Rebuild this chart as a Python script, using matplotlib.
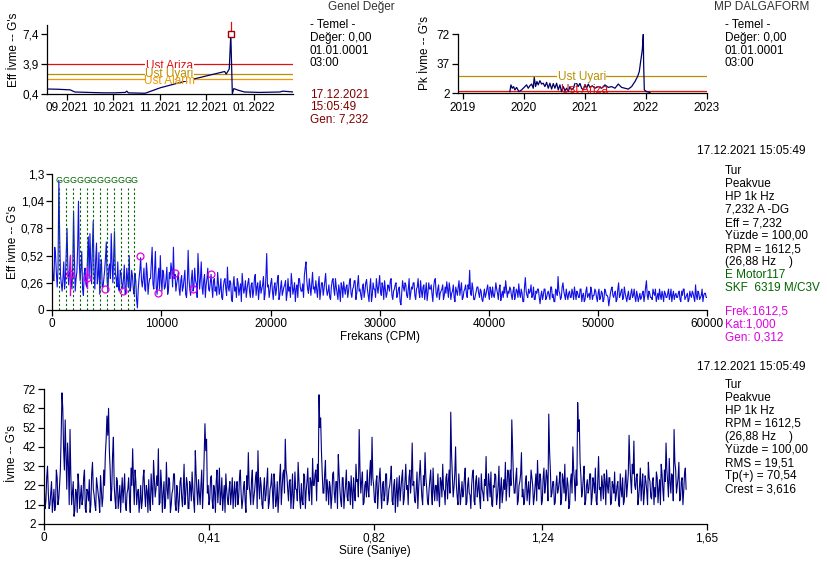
import numpy as np
import pandas as pd
import matplotlib
matplotlib.use('Agg')
import matplotlib.pyplot as plt
import matplotlib.dates as mdates

plt.rcParams['font.family'] = ['Liberation Sans', 'DejaVu Sans']

# --- genel deger trend (Eff)
trend_dates = ['2021-08-19', '2021-08-26', '2021-09-03', '2021-09-06', '2021-09-15', '2021-09-25',
               '2021-10-02', '2021-10-09', '2021-10-10', '2021-10-11', '2021-10-22', '2021-11-01',
               '2021-11-20', '2021-12-13', '2021-12-14', '2021-12-16', '2021-12-17', '2021-12-18',
               '2021-12-19', '2021-12-22', '2021-12-26', '2022-01-05', '2022-01-18', '2022-01-20',
               '2022-01-27']
trend_vals = [0.95, 0.92, 0.85, 0.6, 0.55, 0.5, 0.5, 0.55, 0.7, 0.5, 0.45, 1.1,
              2.0, 3.0, 2.7, 3.3, 7.4, 0.4, 1.0, 0.8, 0.6, 0.55, 0.6, 0.7, 0.6]
eff_limits = {'Ust Ariza': 3.9, 'Ust Uyari': 2.75, 'Ust Alarm': 2.09}

# --- MP dalgaform trend (Pk)
pk_years = [2019.77, 2019.787, 2019.809, 2019.831, 2019.852, 2019.88, 2019.918, 2019.962,
            2020.016, 2020.044, 2020.071, 2020.098, 2020.126, 2020.153, 2020.169, 2020.191,
            2020.213, 2020.235, 2020.262, 2020.29, 2020.317, 2020.344, 2020.372, 2020.399,
            2020.426, 2020.454, 2020.481, 2020.508, 2020.536, 2020.563, 2020.59, 2020.617,
            2020.645, 2020.672, 2020.699, 2020.727, 2020.754, 2020.781, 2020.809, 2020.847,
            2020.869, 2020.891, 2020.918, 2020.945, 2020.973, 2021.0, 2021.027, 2021.055,
            2021.082, 2021.12, 2021.164, 2021.219, 2021.273, 2021.328, 2021.383, 2021.437,
            2021.492, 2021.546, 2021.601, 2021.656, 2021.71, 2021.765, 2021.82, 2021.863,
            2021.891, 2021.913, 2021.929, 2021.94, 2021.956, 2021.962, 2021.973, 2022.011,
            2022.066]
pk_vals = [4, 12, 8, 10, 6, 9, 4, 6, 10, 12, 8, 11, 13, 8, 21, 10, 16, 12, 17, 13, 14, 10,
           15, 8, 14, 7, 13.6, 8, 14, 6, 12, 4, 10, 5, 8, 4, 10, 6, 8, 16, 13, 10, 14, 8, 6,
           12, 8, 13, 9, 11, 8, 10, 8, 12, 9, 10, 8, 13, 9, 8, 7, 10, 16, 22, 28, 40, 48, 54,
           72, 36, 6, 4, 3]
pk_limits = {'Ust Uyari': 22.7, 'Ust Ariza': 4.3, 'Ust Alarm': 2.7}

# --- spektrum (Eff G's x100), bins at 0,150,...,60000 and the 75 CPM points in between
spec_amp = [
    45, 28, 52, 22, 124, 34, 18, 46, 30, 78, 24, 51, 20, 94, 18, 36, 104, 28, 56, 14,
    40, 22, 70, 73, 25, 85, 20, 64, 32, 15, 48, 22, 38, 65, 18, 44, 73, 26, 75, 30,
    46, 18, 35, 20, 43, 16, 30, 52, 22, 32, 15, 28, 2, 30, 50, 22, 40, 18, 35, 25,
    30, 60, 20, 56, 15, 40, 52, 18, 35, 22, 41, 20, 30, 38, 60, 34, 25, 36, 14, 33,
    22, 38, 12, 57, 20, 30, 18, 40, 25, 54, 20, 46, 15, 34, 24, 40, 18, 34, 12, 30,
    22, 36, 15, 30, 10, 28, 20, 41, 18, 26, 8, 32, 22, 30, 14, 25, 35, 16, 28, 20,
    30, 12, 26, 18, 34, 22, 10, 28, 20, 32, 15, 54, 24, 18, 30, 10, 26, 20, 33, 14,
    28, 18, 24, 9, 30, 22, 35, 15, 26, 20, 12, 30, 18, 25, 33, 46, 20, 30, 14, 36,
    22, 28, 12, 32, 18, 26, 20, 35, 14, 24, 10, 28, 20, 30, 16, 24, 8, 22, 27, 15,
    24, 18, 30, 12, 22, 28, 16, 33, 20, 10, 25, 18, 29, 14, 22, 8, 26, 20, 30, 16,
    33, 14, 22, 28, 12, 24, 18, 30, 10, 20, 26, 15, 22, 5, 28, 18, 24, 12, 30, 16,
    20, 26, 10, 22, 17, 28, 12, 24, 18, 9, 26, 20, 15, 22, 30, 12, 24, 16, 20, 10,
    22, 27, 12, 20, 16, 24, 8, 18, 22, 14, 26, 12, 20, 16, 24, 38, 14, 20, 10, 18,
    22, 12, 18, 8, 20, 15, 24, 10, 18, 22, 12, 26, 16, 20, 9, 18, 22, 28, 12, 16,
    20, 10, 22, 14, 18, 25, 12, 16, 8, 31, 14, 20, 18, 12, 22, 10, 16, 20, 6, 18,
    14, 20, 12, 18, 10, 22, 15, 8, 18, 32, 16, 12, 26, 14, 20, 10, 18, 12, 16, 22,
    10, 16, 12, 20, 14, 8, 18, 12, 16, 22, 10, 14, 18, 8, 20, 12, 16, 10, 18, 14,
    4, 16, 22, 12, 18, 10, 26, 14, 20, 12, 16, 8, 18, 10, 20, 14, 12, 18, 8, 16,
    12, 18, 14, 28, 10, 16, 12, 20, 14, 8, 16, 20, 10, 14, 18, 12, 16, 10, 20, 14,
    10, 16, 12, 18, 8, 14, 20, 12, 16, 10, 14, 18, 12, 24, 10, 16, 12, 20, 14, 16,
    12]
spec_mid = [
    30, 60, 35, 40, 70, 25, 30, 20, 55, 40, 35, 28, 42, 50, 30, 60, 45, 40, 20, 35,
    25, 50, 30, 45, 60, 35, 48, 25, 55, 40, 22, 30, 50, 28, 40, 30, 45, 50, 35, 22,
    20, 38, 25, 30, 15, 40, 22, 18, 38, 20, 35, 10, 20, 38, 28, 30, 20, 45, 15, 30,
    45, 25, 38, 22, 30, 20, 28, 38, 20, 30, 15, 36, 45, 22, 30, 18, 30, 20, 28, 18,
    30, 15, 25, 30, 14, 38, 22, 28, 12, 35, 30, 22, 28, 12, 30, 20, 26, 22, 28, 18,
    14, 26, 20, 12, 22, 30, 14, 22, 28, 10, 24, 18, 12, 26, 20, 8, 24, 20, 12, 26,
    18, 24, 12, 30, 14, 26, 20, 16, 24, 10, 32, 22, 12, 26, 18, 22, 14, 28, 10, 22,
    14, 22, 28, 16, 18, 12, 26, 20, 8, 24, 30, 22, 18, 12, 40, 28, 16, 22, 25, 20,
    16, 20, 24, 10, 26, 14, 28, 20, 18, 12, 22, 30, 14, 22, 10, 18, 26, 12, 20, 22,
    12, 26, 16, 20, 28, 10, 24, 18, 14, 22, 12, 26, 20, 8, 30, 14, 20, 12, 22, 24,
    18, 26, 10, 20, 16, 22, 28, 14, 18, 24, 12, 20, 8, 16, 22, 26, 14, 20, 10, 22,
    26, 14, 20, 30, 12, 18, 22, 10, 26, 16, 20, 24, 8, 28, 16, 20, 10, 18, 24, 14,
    16, 20, 26, 10, 18, 12, 22, 14, 28, 20, 10, 18, 24, 12, 20, 16, 26, 10, 14, 22,
    16, 20, 10, 14, 12, 20, 16, 22, 12, 14, 18, 20, 10, 24, 14, 12, 16, 20, 18, 22,
    14, 18, 10, 20, 12, 16, 20, 8, 22, 18, 12, 16, 24, 14, 10, 18, 20, 12, 14, 10,
    20, 10, 16, 14, 22, 12, 8, 20, 14, 18, 10, 22, 18, 10, 14, 16, 12, 20, 10, 16,
    18, 12, 20, 8, 16, 10, 22, 14, 10, 18, 14, 20, 12, 16, 10, 18, 8, 20, 14, 12,
    10, 20, 14, 16, 8, 20, 12, 18, 10, 22, 12, 14, 10, 16, 12, 20, 8, 14, 12, 10,
    16, 8, 22, 14, 18, 12, 10, 16, 20, 12, 10, 14, 18, 8, 16, 12, 20, 14, 8, 18,
    14, 12, 16, 10, 18, 20, 10, 14, 8, 18, 12, 16, 8, 14, 18, 10, 14, 8, 16, 12]
spec_step = 150
g_freqs = [627, 1254, 1881, 2508, 3135, 3762, 4389, 5016, 5643, 6270, 6897, 7524]
harm_freqs = [1612.5, 3225, 4837.5, 6450, 8062.5, 9675, 11287.5, 12900, 14512.5]
harm_amps = [0.34, 0.31, 0.20, 0.18, 0.52, 0.16, 0.35, 0.20, 0.34]

# --- dalga formu (G's), samples every 0.004 s plus the points in between
wave = [
    22, 14, 32, 10, 18, 8, 20, 12, 26, 15, 30, 70, 41, 56, 20, 33, 51, 12, 24, 9,
    18, 28, 10, 22, 15, 30, 8, 19, 25, 12, 34, 17, 9, 22, 14, 27, 11, 30, 38, 58,
    62, 30, 20, 47, 15, 26, 10, 22, 18, 13, 28, 9, 20, 16, 31, 41, 12, 24, 18, 8,
    22, 14, 30, 11, 19, 25, 9, 20, 35, 16, 27, 41, 13, 22, 18, 10, 34, 15, 24, 12,
    20, 28, 9, 18, 14, 26, 11, 33, 17, 23, 10, 21, 29, 14, 40, 19, 25, 12, 30, 20,
    54, 46, 22, 15, 27, 10, 19, 24, 13, 31, 17, 9, 22, 28, 15, 20, 12, 26, 18, 11,
    24, 16, 30, 10, 21, 14, 27, 39, 18, 25, 12, 20, 29, 40, 15, 22, 10, 26, 17, 31,
    13, 22, 19, 28, 11, 24, 16, 33, 20, 30, 46, 27, 14, 25, 18, 10, 29, 20, 34, 15,
    23, 12, 27, 19, 31, 14, 24, 36, 22, 30, 33, 69, 57, 28, 18, 35, 25, 12, 21, 16,
    29, 13, 24, 38, 20, 11, 26, 17, 30, 14, 22, 27, 10, 19, 33, 25, 51, 18, 29, 13,
    24, 30, 16, 35, 47, 22, 13, 27, 19, 31, 10, 24, 17, 28, 14, 22, 32, 12, 25, 18,
    11, 27, 20, 30, 15, 33, 22, 26, 18, 44, 24, 13, 29, 20, 35, 16, 27, 39, 21, 12,
    25, 18, 31, 14, 22, 28, 11, 24, 33, 19, 26, 15, 30, 60, 27, 21, 42, 16, 28, 12,
    24, 19, 31, 13, 26, 17, 22, 30, 12, 27, 20, 15, 28, 18, 25, 37, 14, 23, 29, 11,
    21, 27, 16, 32, 20, 13, 25, 34, 22, 28, 30, 56, 26, 18, 31, 14, 24, 39, 20, 15,
    27, 19, 12, 30, 22, 16, 28, 35, 20, 25, 14, 31, 22, 26, 59, 30, 18, 24, 13, 27,
    20, 29, 15, 25, 33, 18, 22, 12, 28, 42, 24, 30, 65, 56, 27, 19, 32, 14, 25, 20,
    28, 16, 23, 31, 12, 37, 21, 27, 15, 24, 30, 18, 26, 13, 22, 29, 17, 24, 11, 20,
    26, 14, 30, 22, 48, 25, 33, 45, 20, 28, 16, 31, 22, 12, 27, 19, 34, 24, 15, 26,
    21, 29, 13, 25, 33, 20, 30, 44, 24, 36, 18, 27, 51, 30, 22, 34, 15, 26, 19, 31]
wave_mid = [
    10, 26, 18, 12, 24, 14, 9, 30, 12, 22, 48, 62, 30, 38, 44, 12, 28, 18, 6, 20,
    8, 22, 16, 12, 26, 10, 20, 14, 8, 28, 20, 12, 26, 18, 8, 20, 16, 22, 46, 48,
    40, 14, 38, 22, 10, 24, 16, 8, 26, 20, 12, 18, 26, 8, 22, 24, 30, 12, 20, 14,
    10, 26, 18, 22, 8, 14, 28, 12, 26, 20, 22, 12, 30, 8, 24, 14, 20, 26, 8, 18,
    28, 12, 22, 8, 24, 16, 20, 12, 26, 10, 24, 14, 20, 8, 28, 12, 18, 22, 10, 36,
    40, 18, 12, 26, 14, 22, 8, 30, 20, 12, 26, 16, 8, 20, 12, 24, 18, 10, 24, 20,
    12, 26, 18, 14, 24, 8, 20, 22, 12, 30, 16, 26, 10, 22, 26, 12, 20, 14, 24, 10,
    20, 28, 10, 22, 14, 8, 26, 12, 28, 18, 30, 20, 24, 10, 28, 16, 20, 14, 24, 10,
    14, 28, 10, 24, 18, 26, 12, 22, 28, 14, 24, 52, 40, 18, 28, 14, 20, 24, 10, 28,
    18, 24, 10, 28, 14, 26, 10, 22, 16, 24, 12, 18, 26, 14, 24, 16, 30, 24, 12, 22,
    16, 20, 28, 22, 26, 14, 24, 10, 26, 18, 22, 14, 28, 12, 20, 26, 14, 22, 8, 26,
    20, 14, 26, 12, 24, 20, 12, 30, 26, 22, 14, 20, 10, 28, 24, 12, 22, 26, 14, 20,
    30, 12, 20, 22, 14, 18, 26, 16, 20, 12, 28, 24, 18, 38, 16, 28, 22, 12, 20, 18,
    16, 26, 12, 22, 18, 10, 28, 14, 24, 16, 26, 10, 20, 14, 22, 18, 28, 16, 12, 22,
    28, 12, 22, 10, 26, 18, 20, 14, 30, 16, 22, 40, 18, 26, 12, 22, 28, 16, 12, 24,
    14, 24, 20, 26, 12, 22, 14, 22, 28, 12, 26, 18, 30, 14, 40, 16, 24, 12, 22, 18,
    24, 12, 28, 18, 14, 26, 10, 24, 18, 30, 14, 22, 50, 34, 16, 26, 12, 22, 18, 28,
    12, 26, 18, 14, 24, 20, 14, 22, 28, 12, 22, 26, 12, 24, 18, 14, 22, 12, 28, 16,
    12, 24, 16, 28, 34, 18, 28, 22, 26, 12, 22, 14, 28, 18, 24, 12, 26, 16, 24, 12,
    16, 26, 20, 12, 28, 14, 24, 30, 16, 24, 28, 14, 34, 18, 26, 14, 24, 12, 28, 20]
wave_dt = 0.004

W, H = 828, 570
FS = 8.5
NAVY = '#000066'
RED = '#e01010'
GOLD = '#b89000'
ORANGE = '#f09800'
DRED = '#800000'
GREEN = '#006400'
MAG = '#e000e0'


def box(l, t, r, b):
    return [l / W, 1 - b / H, (r - l) / W, (b - t) / H]


def txt(x, y, s, **kw):
    kw.setdefault('fontsize', FS)
    kw.setdefault('va', 'center')
    fig.text(x / W, 1 - y / H, s, **kw)


def style(ax):
    for s in ['top', 'right']:
        ax.spines[s].set_visible(False)
    for s in ['left', 'bottom']:
        ax.spines[s].set_linewidth(0.9)
    ax.tick_params(direction='out', length=4, width=0.9, labelsize=FS, pad=2)


def comma(v):
    return ('%g' % v).replace('.', ',')


def weave(a, b):
    # main samples with the in-between samples slotted after each one
    out = []
    for i, v in enumerate(a):
        out.append(v)
        if i < len(b):
            out.append(b[i])
    return np.array(out, dtype=float)


fig = plt.figure(figsize=(W / 100, H / 100), dpi=100)

# top left trend
ax1 = fig.add_axes(box(47, 25, 293, 93.7))
style(ax1)
d = pd.to_datetime(trend_dates)
for name, col in [('Ust Ariza', RED), ('Ust Uyari', GOLD), ('Ust Alarm', ORANGE)]:
    ax1.axhline(eff_limits[name], color=col, lw=0.9)
lab_x = pd.Timestamp('2021-11-07')
ax1.text(lab_x, 3.7, 'Ust Ariza', color=RED, fontsize=FS, ha='center', va='center',
         bbox=dict(fc='white', ec='none', pad=0.5))
ax1.text(lab_x, 2.66, 'Ust Uyari', color=GOLD, fontsize=FS, ha='center', va='center',
         bbox=dict(fc='white', ec='none', pad=0.3))
ax1.text(lab_x, 1.86, 'Ust Alarm', color=ORANGE, fontsize=FS, ha='center', va='center')
ax1.plot(d, trend_vals, color=NAVY, lw=0.9)
pk_day = d[trend_vals.index(max(trend_vals))]
ax1.plot([pk_day, pk_day], [7.4, 8.8], color=RED, lw=0.9, clip_on=False)
ax1.plot([pk_day], [7.4], 's', ms=5, mfc='white', mec='#a00000', mew=1, clip_on=False)
ax1.set_xlim(pd.Timestamp('2021-08-18 20:00'), pd.Timestamp('2022-01-26 16:00'))
ax1.set_ylim(0.4, 8.45)
ax1.set_yticks([0.4, 3.9, 7.4])
ax1.set_yticklabels([comma(v) for v in [0.4, 3.9, 7.4]])
ax1.xaxis.set_major_locator(mdates.MonthLocator())
ax1.xaxis.set_major_formatter(mdates.DateFormatter('%m.%Y'))

# top right trend
ax2 = fig.add_axes(box(458, 34, 707, 93.3))
style(ax2)
ax2.axhline(pk_limits['Ust Uyari'], color=GOLD, lw=0.9)
ax2.axhline(pk_limits['Ust Ariza'], color=RED, lw=0.9)
ax2.axhline(pk_limits['Ust Alarm'], color=ORANGE, lw=0.9)
ax2.text(2020.95, 21.5, 'Ust Uyari', color=GOLD, fontsize=FS, ha='center', va='center',
         bbox=dict(fc='white', ec='none', pad=0.3))
ax2.text(2021.0, 6.0, 'Ust Ariza', color=RED, fontsize=FS, ha='center', va='center')
ax2.plot(pk_years, pk_vals, color=NAVY, lw=0.9)
ax2.set_xlim(2018.92, 2023.0)
ax2.set_ylim(2, 72.5)
ax2.set_xticks([2019, 2020, 2021, 2022, 2023])
ax2.set_xticklabels(['2019', '2020', '2021', '2022', '2023'])
ax2.set_yticks([2, 37, 72])

# spectrum
ax3 = fig.add_axes(box(52.3, 174, 707, 310))
style(ax3)
amp = weave(spec_amp, spec_mid) / 100.0
freq = np.arange(len(amp)) * (spec_step / 2)
ax3.plot(freq, amp, color='#1010e6', lw=0.8)
for f in g_freqs:
    ax3.plot([f, f], [0, 1.17], color=GREEN, lw=0.8, ls=(0, (2, 2)))
    ax3.text(f, 1.235, 'G', color=GREEN, fontsize=6.5, ha='center', va='center')
ax3.plot([harm_freqs[0]] * 2, [0.14, 0.53], color=MAG, lw=1)
ax3.plot([harm_freqs[1]] * 2, [0.21, 0.41], color=MAG, lw=1)
ax3.plot(harm_freqs, harm_amps, 'o', ms=5, mfc='none', mec=MAG, mew=0.9)
ax3.set_xlim(0, 60000)
ax3.set_ylim(0, 1.3)
sp_y = [0, 0.26, 0.52, 0.78, 1.04, 1.3]
ax3.set_yticks(sp_y)
ax3.set_yticklabels([comma(v) for v in sp_y])
ax3.set_xticks(range(0, 60001, 10000))
ax3.set_xticklabels([str(v) for v in range(0, 60001, 10000)])

# waveform
ax4 = fig.add_axes(box(44.3, 389, 707, 524))
style(ax4)
wv = weave(wave, wave_mid)
t = np.arange(len(wv)) * (wave_dt / 2)
ax4.plot(t, wv, color='#000080', lw=0.8)
ax4.set_xlim(0, 1.65)
ax4.set_ylim(2, 72)
ax4.set_yticks(range(2, 73, 10))
wx = [0, 0.41, 0.82, 1.24, 1.65]
ax4.set_xticks(wx)
ax4.set_xticklabels([comma(v) for v in wx])

# axis titles
txt(14, 50, "Eff İvme -- G's", rotation=90, ha='center')
txt(425, 53, "Pk İvme -- G's", rotation=90, ha='center')
txt(13.5, 242, "Eff ivme -- G's", rotation=90, ha='center')
txt(12, 453, "İvme -- G's", rotation=90, ha='center')
txt(380, 337, 'Frekans (CPM)', ha='center')
txt(375, 551, 'Süre (Saniye)', ha='center')

# headers
txt(361, 1, 'Genel Değer', ha='center', va='top', color='#333333')
txt(762, 1, 'MP DALGAFORM', ha='center', va='top', color='#333333')

for y, s in zip([25, 38.3, 50.7, 63.3], ['- Temel -', 'Değer: 0,00', '01.01.0001', '03:00']):
    txt(310, y, s)
    txt(725, y, s)
for y, s in zip([95, 107.3, 120], ['17.12.2021', '15:05:49', 'Gen: 7,232']):
    txt(310, y, s, color=DRED)

txt(697, 151, '17.12.2021 15:05:49')
spec_info = ['Tur', 'Peakvue', 'HP 1k Hz', '7,232 A -DG', 'Eff = 7,232', 'Yüzde = 100,00',
             'RPM = 1612,5', '(26,88 Hz    )']
for i, s in enumerate(spec_info):
    txt(725, 171 + 13 * i, s)
txt(725, 275, 'E Motor117', color=GREEN)
txt(725, 288, 'SKF  6319 M/C3V', color=GREEN)
for i, s in enumerate(['Frek:1612,5', 'Kat:1,000', 'Gen: 0,312']):
    txt(725, 311.5 + 12.8 * i, s, color=MAG)

txt(697, 367, '17.12.2021 15:05:49')
wave_info = ['Tur', 'Peakvue', 'HP 1k Hz', 'RPM = 1612,5', '(26,88 Hz    )', 'Yüzde = 100,00',
             'RMS = 19,51', 'Tp(+) = 70,54', 'Crest = 3,616']
for i, s in enumerate(wave_info):
    txt(725, 385 + 13 * i, s)

fig.savefig('out.png', dpi=100)
